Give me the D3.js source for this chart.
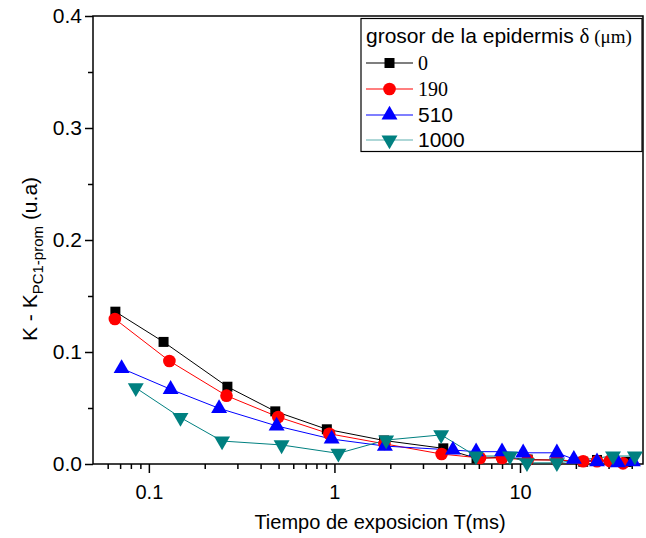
<!DOCTYPE html>
<html>
<head>
<meta charset="utf-8">
<script src="https://cdn.jsdelivr.net/npm/d3@7"></script>
<style>
  body { margin: 0; background: #fff; }
  svg { display: block; font-family: Arial, "Liberation Sans", sans-serif; }
</style>
</head>
<body>
<div id="chart"></div>
<script>
// data
const seriesNames = ["0", "190", "510", "1000"];
const colors = ["#000000", "#ff0000", "#0000ff", "#008080"];

const t0 = [0.066, 0.12, 0.265, 0.48, 0.91, 1.85, 3.86, 5.83, 8.0, 11.0, 15.8, 21.9, 26.0, 31.0, 37.6];
const k0 = [0.136, 0.109, 0.069, 0.047, 0.031, 0.021, 0.014, 0.005, 0.006, 0.004, 0.0035, 0.002, 0.0036, 0.003, 0.0018];

const t190 = [0.0656, 0.129, 0.262, 0.498, 0.938, 1.86, 3.78, 6.09, 8.0, 11.0, 15.8, 21.9, 26.0, 30.5, 35.9];
const k190 = [0.1295, 0.092, 0.061, 0.042, 0.027, 0.018, 0.0089, 0.0054, 0.0054, 0.0036, 0.0036, 0.0024, 0.0024, 0.0027, 0.0006];

const t510 = [0.0713, 0.131, 0.239, 0.488, 0.966, 1.87, 4.35, 5.8, 8.0, 10.4, 15.8, 19.5, 26.0, 33.7, 40.6];
const k510 = [0.0854, 0.0667, 0.0497, 0.034, 0.0223, 0.016, 0.0125, 0.011, 0.011, 0.010, 0.010, 0.0043, 0.002, 0.0012, 0.002];

const t1000 = [0.085, 0.148, 0.248, 0.519, 1.05, 1.9, 3.76, 5.79, 8.83, 10.9, 15.8, 31.7, 41.6];
const k1000 = [0.068, 0.0415, 0.0205, 0.017, 0.0095, 0.0214, 0.026, 0.0071, 0.0071, 0.001, 0.001, 0.0071, 0.0071];

const yTicks = [0, 0.1, 0.2, 0.3, 0.4];
const xTicks = [0.1, 1, 10];

const series = [
  { name: seriesNames[0], t: t0, k: k0 },
  { name: seriesNames[1], t: t190, k: k190 },
  { name: seriesNames[2], t: t510, k: k510 },
  { name: seriesNames[3], t: t1000, k: k1000 }
].map((s, i) => ({ ...s, color: colors[i], pts: s.t.map((t, j) => ({ t, k: s.k[j] })) }));

const width = 646, height = 538;
const mLeft = 93, mRight = 643, mTop = 16, mBottom = 464;
const sans = "Arial, 'Liberation Sans', sans-serif";
const serif = "'Liberation Serif', 'Times New Roman', serif";

const svg = d3.select("#chart").append("svg")
  .attr("width", width)
  .attr("height", height);

const x = d3.scaleLog().domain([0.05, 46]).range([mLeft, mRight]);
const y = d3.scaleLinear().domain([0, 0.4]).range([mBottom, mTop]);

// minor ticks on log axis
let xMinor = [];
[0.01, 0.1, 1, 10].forEach(p => {
  for (let m = 2; m <= 9; m++) {
    const v = m * p;
    if (v > 0.05 && v < 46) xMinor.push(v);
  }
});

svg.append("g")
  .attr("transform", `translate(0,${mBottom})`)
  .call(d3.axisBottom(x).tickValues(xMinor).tickSize(5).tickFormat(""))
  .call(g => g.select(".domain").remove())
  .selectAll("line").attr("stroke-width", 1.5);

const xAxis = svg.append("g")
  .attr("transform", `translate(0,${mBottom})`)
  .call(d3.axisBottom(x).tickValues(xTicks).tickSize(9).tickPadding(12).tickFormat(d3.format("")));
xAxis.select(".domain").remove();
xAxis.selectAll("line").attr("stroke-width", 1.5);
xAxis.selectAll("text").attr("font-size", 20).attr("font-family", sans).attr("fill", "#000");

svg.append("g")
  .attr("transform", `translate(${mLeft},0)`)
  .call(d3.axisLeft(y).tickValues([0.05, 0.15, 0.25, 0.35]).tickSize(5).tickFormat(""))
  .call(g => g.select(".domain").remove())
  .selectAll("line").attr("stroke-width", 1.5);

const yAxis = svg.append("g")
  .attr("transform", `translate(${mLeft},0)`)
  .call(d3.axisLeft(y).tickValues(yTicks).tickSize(8).tickPadding(3).tickFormat(d3.format(".1f")));
yAxis.select(".domain").remove();
yAxis.selectAll("line").attr("stroke-width", 1.5);
yAxis.selectAll("text").attr("font-size", 21).attr("font-family", sans).attr("fill", "#000");

// frame
svg.append("rect")
  .attr("x", mLeft).attr("y", mTop)
  .attr("width", mRight - mLeft).attr("height", mBottom - mTop)
  .attr("fill", "none").attr("stroke", "#000").attr("stroke-width", 1.5);

const line = d3.line().x(d => x(d.t)).y(d => y(d.k));

const symbols = [
  { type: d3.symbolSquare, size: 100, rot: 0 },
  { type: d3.symbolCircle, size: 125, rot: 0 },
  { type: d3.symbolTriangle, size: 110, rot: 0 },
  { type: d3.symbolTriangle, size: 110, rot: 180 }
];

const plotArea = svg.append("g");

series.forEach((s, i) => {
  plotArea.append("path")
    .datum(s.pts)
    .attr("d", line)
    .attr("fill", "none")
    .attr("stroke", s.color)
    .attr("stroke-width", 1);
});

series.forEach((s, i) => {
  const sym = symbols[i];
  plotArea.selectAll(null)
    .data(s.pts)
    .enter()
    .append("path")
    .attr("d", d3.symbol().type(sym.type).size(sym.size))
    .attr("transform", d => `translate(${x(d.t)},${y(d.k)}) rotate(${sym.rot})`)
    .attr("fill", s.color);
});

// axis titles
svg.append("text")
  .attr("x", 380).attr("y", 529)
  .attr("text-anchor", "middle")
  .attr("font-size", 20)
  .text("Tiempo de exposicion T(ms)");

const yTitle = svg.append("text")
  .attr("transform", `translate(37,341) rotate(-90)`)
  .attr("text-anchor", "start")
  .attr("font-size", 21);
yTitle.append("tspan").text("K - K");
yTitle.append("tspan").attr("font-size", 15).attr("dy", 6).text("PC1-prom");
yTitle.append("tspan").attr("dy", -6).text(" (u.a)");

// legend
const lg = svg.append("g");
lg.append("rect")
  .attr("x", 361).attr("y", 18.5)
  .attr("width", 281).attr("height", 133)
  .attr("fill", "#fff").attr("stroke", "#000").attr("stroke-width", 1.2);

const title = lg.append("text")
  .attr("x", 366).attr("y", 43)
  .attr("font-size", 21);
title.append("tspan").text("grosor de la epidermis ");
title.append("tspan").attr("font-family", serif).attr("font-size", 21).text("δ");
title.append("tspan").attr("font-family", serif).attr("font-size", 19).text(" (μm)");

const rowY = [63, 89, 115, 140];
const legendFonts = [serif, serif, sans, sans];
const legendSizes = [20, 20, 21, 21];

series.forEach((s, i) => {
  const ry = rowY[i];
  lg.append("line")
    .attr("x1", 366).attr("x2", 413)
    .attr("y1", ry).attr("y2", ry)
    .attr("stroke", i === 3 ? "#5fb0b0" : s.color)
    .attr("stroke-width", 1.2);
  lg.append("path")
    .attr("d", d3.symbol().type(symbols[i].type).size(symbols[i].size))
    .attr("transform", `translate(389.5,${ry}) rotate(${symbols[i].rot})`)
    .attr("fill", s.color);
  lg.append("text")
    .attr("x", 418).attr("y", ry + 7)
    .attr("font-family", legendFonts[i])
    .attr("font-size", legendSizes[i])
    .text(s.name);
});
</script>
</body>
</html>
